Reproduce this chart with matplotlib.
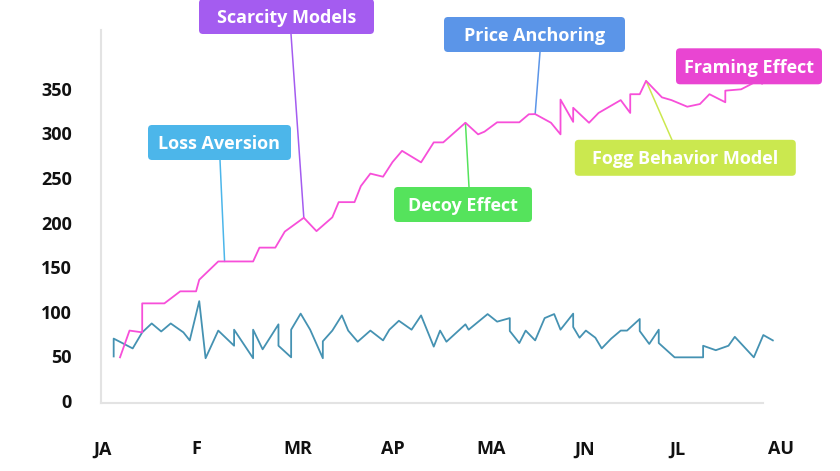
import matplotlib
matplotlib.use('Agg')
import matplotlib.pyplot as plt
import matplotlib.dates as mdates
import matplotlib.transforms as mtrans
from matplotlib.patches import FancyBboxPatch
import pandas as pd

plt.rcParams['font.family'] = ['Open Sans', 'DejaVu Sans']

# ---------------- data ----------------
blue_day = [4, 4, 10, 13, 16, 19, 22, 26, 28, 31,
            33, 37, 42, 42, 48, 48, 51, 56, 56, 60,
            60, 63, 66, 70, 70, 73, 76, 78, 81, 85,
            89, 91, 94, 98, 101, 105, 107, 109, 115, 116,
            122, 125, 129, 129, 132, 134, 137, 140, 143, 145,
            149, 149, 151, 153, 156, 158, 161, 164, 166, 170,
            170, 173, 176, 176, 181, 190, 190, 194, 198, 200,
            206, 209, 212]
blue_val = [50, 70, 59, 77, 87, 78, 87, 77, 68, 112,
            48, 79, 62, 80, 48, 80, 58, 86, 62, 49,
            80, 98, 80, 48, 67, 79, 96, 79, 66.5, 79,
            68, 80, 90, 80, 96, 61, 79, 66.5, 86, 80,
            97.5, 89, 93, 78.5, 65, 79, 68, 93, 97.5, 80,
            98, 83, 71, 79, 71, 59, 70, 79, 79, 92,
            78.5, 64, 80, 65, 49, 49, 62, 57, 62, 72,
            49, 74, 68]

pink_day = [6, 9, 13, 13, 20, 25, 30, 31, 37, 39,
            48, 50, 55, 58, 64, 68, 73, 75, 80, 82,
            85, 89, 92, 95, 101, 105, 108, 115, 119, 121,
            125, 132, 135, 137, 142, 145, 145, 149, 149, 154,
            157, 164, 167, 167, 170, 172, 177, 180, 185, 189,
            192, 197, 197, 202, 205, 212]
pink_val = [49, 79, 77, 109.5, 109.5, 123, 123, 136, 156.5, 156.5,
            156.5, 172, 172, 190, 205.5, 190.5, 206, 223, 223, 241,
            255, 251.5, 268, 280.5, 267.6, 290, 290, 312, 299, 302,
            312.5, 312.5, 321.5, 321.7, 312, 299, 338, 313, 328.8, 312,
            323, 337.4, 323, 344, 344, 359, 340.5, 337.4, 330, 333,
            344, 335, 348, 349.5, 355, 368]

month_labels = ['JA', 'F', 'MR', 'AP', 'MA', 'JN', 'JL', 'AU']
y_ticks = [0, 50, 100, 150, 200, 250, 300, 350]

ann_labels = ['Loss Aversion', 'Scarcity Models', 'Decoy Effect',
              'Price Anchoring', 'Fogg Behavior Model', 'Framing Effect']
ann_days = [39, 64, 115, 137, 172, 212]

# ---------------- layout / style ----------------
W, H = 840, 471
BLUE = '#4592b2'
PINK = '#f74fd9'
ann_colors = ['#4cb6ea', '#a45cf0', '#55e35c', '#5b95e8', '#cbe84f', '#e945d2']
# box centre (px from top-left), width, height, connector anchor (px)
ann_boxes = [
    ((219.5, 142.5), 143, 35, (220, 160)),
    ((286.5, 16.5), 175, 35, (291, 34)),
    ((463.0, 204.5), 138, 35, (469, 187)),
    ((534.5, 34.5), 181, 35, (540, 52)),
    ((685.3, 157.8), 221, 36, (672, 140)),
    ((749.0, 66.3), 146, 36, (762, 84)),
]

fig = plt.figure(figsize=(W / 100, H / 100), dpi=100)
ax = fig.add_axes([101 / W, 68 / H, 675 / W, 373 / H])

base = pd.Timestamp('2020-01-01')


def to_dates(days):
    return [base + pd.Timedelta(days=d) for d in days]


ax.plot(to_dates(blue_day), blue_val, color=BLUE, lw=1.3, zorder=3)
ax.plot(to_dates(pink_day), pink_val, color=PINK, lw=1.3, zorder=3)

ax.set_xlim(base, base + pd.Timedelta(days=212.6))
ax.set_ylim(-2.2, 416)

month_starts = pd.date_range('2020-01-01', '2020-08-01', freq='MS')
ax.set_xticks(month_starts)
ax.set_xticklabels(month_labels, ha='left')
ax.set_yticks(y_ticks)
ax.set_yticklabels([str(v) for v in y_ticks])
ax.tick_params(axis='x', length=0, pad=27, labelsize=13)
ax.tick_params(axis='y', length=0, pad=21, labelsize=13)
for lab in ax.get_xticklabels() + ax.get_yticklabels():
    lab.set_fontweight('bold')
    lab.set_color('#111111')
off = mtrans.ScaledTranslation(-8 / 100, 0, fig.dpi_scale_trans)
for lab in ax.get_xticklabels():
    lab.set_transform(lab.get_transform() + off)

for s in ['top', 'right']:
    ax.spines[s].set_visible(False)
for s in ['left', 'bottom']:
    ax.spines[s].set_color('#e3e3e3')
    ax.spines[s].set_linewidth(1.5)
ax.spines['bottom'].set_bounds(mdates.date2num(base),
                               mdates.date2num(base + pd.Timedelta(days=209)))

# ---------------- annotations ----------------
for label, day, color, (ctr, bw, bh, anc) in zip(ann_labels, ann_days, ann_colors, ann_boxes):
    idx = pink_day.index(day)
    val = pink_val[idx]
    ax.annotate('', xy=(base + pd.Timedelta(days=day), val), xycoords='data',
                xytext=(anc[0], H - anc[1]), textcoords='figure pixels',
                arrowprops=dict(arrowstyle='-', color=color, lw=1.1,
                                shrinkA=0, shrinkB=0),
                annotation_clip=False, zorder=2)
    cx, cy = ctr
    box = FancyBboxPatch((cx - bw / 2, H - cy - bh / 2), bw, bh,
                         boxstyle='round,pad=0,rounding_size=4',
                         transform=mtrans.IdentityTransform(),
                         facecolor=color, edgecolor='none', zorder=5)
    fig.add_artist(box)
    fig.text(cx / W, (H - cy - 6.5) / H, label, ha='center', va='baseline',
             color='white', fontsize=13, fontweight='bold', zorder=6)

fig.savefig('out.png', dpi=100)
